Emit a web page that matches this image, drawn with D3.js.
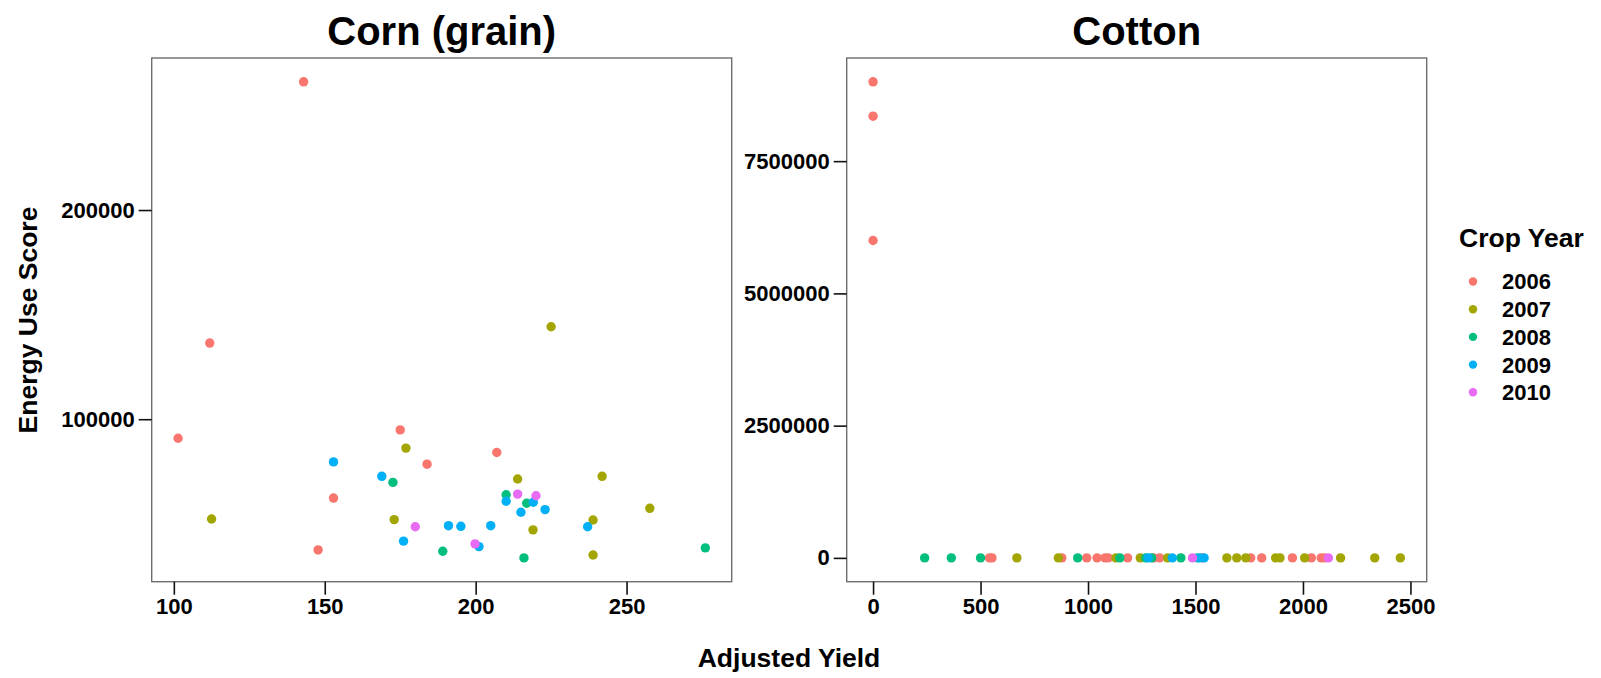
<!DOCTYPE html>
<html>
<head>
<meta charset="utf-8">
<script src="https://cdn.jsdelivr.net/npm/d3@7"></script>
<style>
  html, body { margin: 0; padding: 0; background: #ffffff; }
  svg { display: block; font-family: "Liberation Sans", Arial, Helvetica, sans-serif; font-weight: bold; }
</style>
</head>
<body>
<svg id="chart" width="1601" height="678"></svg>
<script>
// ---- data ---------------------------------------------------------------
const years = ["2006", "2007", "2008", "2009", "2010"];
const yearColors = ["#F8766D", "#A3A500", "#00BF7D", "#00B0F6", "#E76BF3"];

// Corn (grain): [adjusted yield, energy use score]
const corn2006 = [[101.4, 90900], [111.9, 136400], [143.0, 261300], [147.8, 37500],
                  [152.9, 62300], [175.0, 94900], [183.9, 78500], [207.0, 84100]];
const corn2007 = [[112.5, 52300], [173.0, 52000], [176.9, 86200], [213.9, 71400],
                  [219.0, 47100], [225.0, 144200], [238.9, 51800], [238.9, 35100],
                  [241.9, 72700], [257.7, 57400]];
const corn2008 = [[172.6, 69800], [189.1, 36900], [210.1, 63900], [216.0, 33700],
                  [216.9, 59800], [276.1, 38500]];
const corn2009 = [[152.9, 79600], [168.9, 72700], [176.1, 41700], [191.0, 49100],
                  [195.1, 48800], [201.1, 39100], [205.0, 49100], [210.1, 60800],
                  [215.0, 55500], [219.1, 60300], [223.0, 56800], [237.1, 48600]];
const corn2010 = [[180.0, 48600], [199.8, 40400], [213.9, 64200], [220.0, 63400]];

// Cotton: [adjusted yield, energy use score]
const cotton2006 = [[0, 9000000], [0, 8350000], [0, 6000000], [542, 0], [553, 0], [878, 0],
                    [994, 0], [1042, 0], [1079, 0], [1094, 0], [1184, 0], [1305, 0],
                    [1333, 0], [1533, 0], [1757, 0], [1808, 0], [1951, 0], [2039, 0],
                    [2085, 0], [2101, 0]];
const cotton2007 = [[669, 0], [862, 0], [1130, 0], [1243, 0], [1370, 0], [1646, 0],
                    [1692, 0], [1734, 0], [1873, 0], [1893, 0], [2008, 0], [2175, 0],
                    [2334, 0], [2453, 0]];
const cotton2008 = [[240, 0], [364, 0], [500, 0], [952, 0], [1148, 0], [1269, 0],
                    [1296, 0], [1432, 0], [1509, 0]];
const cotton2009 = [[1280, 0], [1392, 0], [1520, 0], [1540, 0]];
const cotton2010 = [[1486, 0], [2118, 0]];

const cornYieldTicks = [100, 150, 200, 250];
const cornEnergyTicks = [100000, 200000];
const cottonYieldTicks = [0, 500, 1000, 1500, 2000, 2500];
const cottonEnergyTicks = [0, 2500000, 5000000, 7500000];

const panels = [
  { title: "Corn (grain)", series: [corn2006, corn2007, corn2008, corn2009, corn2010],
    xTicks: cornYieldTicks, yTicks: cornEnergyTicks, left: 151.7 },
  { title: "Cotton", series: [cotton2006, cotton2007, cotton2008, cotton2009, cotton2010],
    xTicks: cottonYieldTicks, yTicks: cottonEnergyTicks, left: 846.7 }
];

// ---- layout ---------------------------------------------------------------
const panelW = 580, panelTop = 58, panelBottom = 581.7;
const svg = d3.select("#chart");

// continuous range with 5% padding on both ends
function padded(vals) {
  const [lo, hi] = d3.extent(vals);
  const p = (hi - lo) * 0.05;
  return [lo - p, hi + p];
}

panels.forEach(panel => {
  const all = panel.series.flat();
  const x = d3.scaleLinear().domain(padded(all.map(d => d[0]))).range([panel.left, panel.left + panelW]);
  const y = d3.scaleLinear().domain(padded(all.map(d => d[1]))).range([panelBottom, panelTop]);
  const g = svg.append("g");

  // points, one layer per crop year
  panel.series.forEach((pts, i) => {
    g.append("g").selectAll("circle").data(pts).join("circle")
      .attr("cx", d => x(d[0]))
      .attr("cy", d => y(d[1]))
      .attr("r", 4.7)
      .attr("fill", yearColors[i]);
  });

  // panel border
  g.append("rect")
    .attr("x", panel.left).attr("y", panelTop)
    .attr("width", panelW).attr("height", panelBottom - panelTop)
    .attr("fill", "none").attr("stroke", "#6e6e6e").attr("stroke-width", 1.4);

  // axes
  const yAxis = g.append("g").attr("transform", `translate(${panel.left},0)`)
    .call(d3.axisLeft(y).tickValues(panel.yTicks).tickSize(13).tickPadding(4).tickFormat(d3.format("d")));
  const xAxis = g.append("g").attr("transform", `translate(0,${panelBottom})`)
    .call(d3.axisBottom(x).tickValues(panel.xTicks).tickSize(13).tickPadding(4).tickFormat(d3.format("d")));
  [yAxis, xAxis].forEach(a => {
    a.select(".domain").remove();
    a.selectAll(".tick line").attr("stroke", "#111").attr("stroke-width", 1.6);
    a.selectAll(".tick text").attr("fill", "#000").style("font-size", "22px")
      .style("font-family", "'Liberation Sans', Arial, sans-serif").style("font-weight", "bold");
  });

  // panel title
  g.append("text")
    .attr("x", panel.left + panelW / 2).attr("y", 45)
    .attr("text-anchor", "middle")
    .style("font-size", "40px")
    .text(panel.title);
});

// shared axis titles
svg.append("text")
  .attr("transform", "translate(37,320) rotate(-90)")
  .attr("text-anchor", "middle")
  .style("font-size", "26.5px")
  .text("Energy Use Score");

svg.append("text")
  .attr("x", 789).attr("y", 667)
  .attr("text-anchor", "middle")
  .style("font-size", "26.5px")
  .text("Adjusted Yield");

// legend
const legend = svg.append("g");
legend.append("text")
  .attr("x", 1459).attr("y", 247)
  .style("font-size", "26.5px")
  .text("Crop Year");

const keyY = d3.scalePoint().domain(years).range([281.5, 392.3]);
const keys = legend.selectAll("g.key").data(years).join("g").attr("class", "key");
keys.append("circle")
  .attr("cx", 1473).attr("cy", d => keyY(d)).attr("r", 4.2)
  .attr("fill", (d, i) => yearColors[i]);
keys.append("text")
  .attr("x", 1502).attr("y", d => keyY(d)).attr("dy", "0.36em")
  .style("font-size", "22px")
  .text(d => d);
</script>
</body>
</html>
